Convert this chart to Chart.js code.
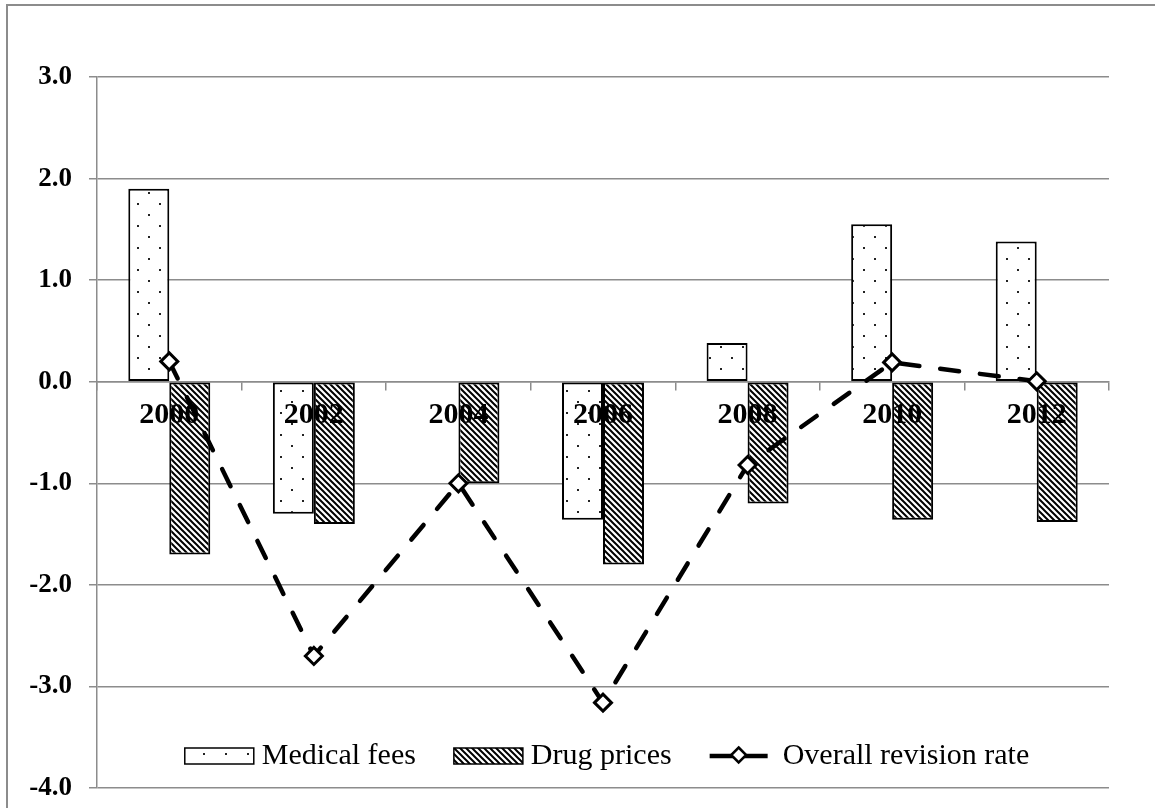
<!DOCTYPE html>
<html>
<head>
<meta charset="utf-8">
<title>Revision rates</title>
<script src="https://cdn.jsdelivr.net/npm/chart.js@4.4.1/dist/chart.umd.min.js"></script>
<style>
  html, body { margin: 0; padding: 0; background: #fff; }
  canvas { display: block; }
</style>
</head>
<body>
<canvas id="revisionChart" width="1155" height="808"></canvas>
<script>
// Revision rates by year (%)
const years = ['2000', '2002', '2004', '2006', '2008', '2010', '2012'];
const medicalFees = [1.9, -1.3, 0, -1.36, 0.38, 1.55, 1.38];
const drugPrices = [-1.7, -1.4, -1.0, -1.8, -1.2, -1.36, -1.38];
const overallRate = [0.2, -2.7, -1.0, -3.16, -0.82, 0.19, 0.004];
const yTicks = [-4, -3, -2, -1, 0, 1, 2, 3];

const serif = "'Times New Roman', 'Liberation Serif', serif";
const gridGray = '#8c8c8c';

// sparse staggered dots on white
function dotPattern() {
    const c = document.createElement('canvas');
    c.width = 22; c.height = 22;
    const g = c.getContext('2d');
    g.fillStyle = '#fff';
    g.fillRect(0, 0, 22, 22);
    g.fillStyle = '#222';
    g.fillRect(5, 5, 2, 2);
    g.fillRect(16, 16, 2, 2);
    return g.createPattern(c, 'repeat');
}

// dense "\" diagonal hatching
function hatchPattern() {
    const p = 6;
    const c = document.createElement('canvas');
    c.width = p; c.height = p;
    const g = c.getContext('2d');
    g.fillStyle = '#fff';
    g.fillRect(0, 0, p, p);
    g.strokeStyle = '#000';
    g.lineWidth = 2;
    g.beginPath();
    for (let k = -1; k <= 1; k++) {
        g.moveTo(k * p - 1, -1);
        g.lineTo(k * p + p + 1, p + 1);
    }
    g.stroke();
    return g.createPattern(c, 'repeat');
}

function drawDiamond(ctx, x, y, r) {
    ctx.beginPath();
    ctx.moveTo(x, y - r);
    ctx.lineTo(x + r, y);
    ctx.lineTo(x, y + r);
    ctx.lineTo(x - r, y);
    ctx.closePath();
    ctx.fillStyle = '#fff';
    ctx.fill();
    ctx.lineWidth = 2.5;
    ctx.strokeStyle = '#000';
    ctx.stroke();
}

// thin gray frame round the whole figure
const frame = {
    id: 'frame',
    beforeDraw(chart) {
        const ctx = chart.ctx;
        ctx.save();
        ctx.strokeStyle = gridGray;
        ctx.lineWidth = 2;
        ctx.strokeRect(7, 5, 2000, 2000);
        ctx.restore();
    }
};

// legend row sitting inside the plot, above the bottom gridline
const innerLegend = {
    id: 'innerLegend',
    afterDraw(chart) {
        const ctx = chart.ctx;
        const area = chart.chartArea;
        const sets = chart.data.datasets;
        ctx.save();
        ctx.font = '30px ' + serif;
        ctx.textBaseline = 'middle';
        ctx.textAlign = 'left';
        const gap = 38;
        const items = sets.map(ds => {
            const sym = ds.type === 'line' ? 58 : 69;
            const pad = ds.type === 'line' ? 15 : 8;
            return { ds, sym, pad, w: sym + pad + ctx.measureText(ds.label).width };
        });
        const total = items.reduce((s, it) => s + it.w, 0) + gap * (items.length - 1);
        let x = (area.left + area.right) / 2 + 4 - total / 2;
        const y = area.bottom - 32;
        items.forEach(it => {
            if (it.ds.type === 'line') {
                ctx.strokeStyle = '#000';
                ctx.lineWidth = 4.5;
                ctx.beginPath();
                ctx.moveTo(x, y);
                ctx.lineTo(x + it.sym, y);
                ctx.stroke();
                drawDiamond(ctx, x + it.sym / 2, y - 1, 7.5);
            } else {
                ctx.fillStyle = it.ds.backgroundColor;
                ctx.fillRect(x, y - 8, it.sym, 16);
                ctx.strokeStyle = '#000';
                ctx.lineWidth = 1.5;
                ctx.strokeRect(x, y - 8, it.sym, 16);
            }
            ctx.fillStyle = '#000';
            ctx.fillText(it.ds.label, x + it.sym + it.pad, y);
            x += it.w + gap;
        });
        ctx.restore();
    }
};

const ctx = document.getElementById('revisionChart').getContext('2d');
new Chart(ctx, {
    type: 'bar',
    data: {
        labels: years,
        datasets: [
            {
                label: 'Medical fees',
                data: medicalFees,
                backgroundColor: dotPattern(),
                borderColor: '#000',
                borderWidth: 2,
                borderSkipped: false,
                categoryPercentage: 0.567,
                barPercentage: 1,
                order: 1
            },
            {
                label: 'Drug prices',
                data: drugPrices,
                backgroundColor: hatchPattern(),
                borderColor: '#000',
                borderWidth: 2,
                borderSkipped: false,
                categoryPercentage: 0.567,
                barPercentage: 1,
                order: 1
            },
            {
                type: 'line',
                label: 'Overall revision rate',
                data: overallRate,
                borderColor: '#000',
                borderWidth: 4.5,
                borderDash: [19, 21],
                borderCapStyle: 'round',
                fill: false,
                tension: 0,
                pointStyle: 'rectRot',
                pointRadius: 8.5,
                pointBorderWidth: 3,
                pointBackgroundColor: '#fff',
                pointBorderColor: '#000',
                order: 0
            }
        ]
    },
    options: {
        responsive: false,
        animation: false,
        devicePixelRatio: 1,
        layout: { padding: { top: 77, right: 46, bottom: 20, left: 0 } },
        scales: {
            x: {
                position: { y: 0 },
                offset: true,
                border: { display: true, color: gridGray, width: 1.5 },
                grid: {
                    display: true,
                    offset: true,
                    drawOnChartArea: false,
                    drawTicks: true,
                    tickLength: 8,
                    color: gridGray,
                    lineWidth: 1.5
                },
                ticks: {
                    z: 1,
                    color: '#000',
                    padding: 8,
                    maxRotation: 0,
                    autoSkip: false,
                    font: { family: serif, size: 30, weight: 'bold' }
                }
            },
            y: {
                min: -4,
                max: 3,
                afterBuildTicks: scale => { scale.ticks = yTicks.map(v => ({ value: v })); },
                afterFit: scale => {
                    scale.width = 97;
                    scale.paddingTop = 0;
                    scale.paddingBottom = 0;
                },
                border: { display: true, color: gridGray, width: 1.5 },
                grid: { color: gridGray, lineWidth: 1.5, drawTicks: true, tickLength: 8 },
                ticks: {
                    color: '#000',
                    padding: 17,
                    font: { family: serif, size: 27, weight: 'bold' },
                    callback: v => Number(v).toFixed(1)
                }
            }
        },
        plugins: {
            legend: { display: false },
            tooltip: { enabled: false }
        }
    },
    plugins: [frame, innerLegend]
});
</script>
</body>
</html>
